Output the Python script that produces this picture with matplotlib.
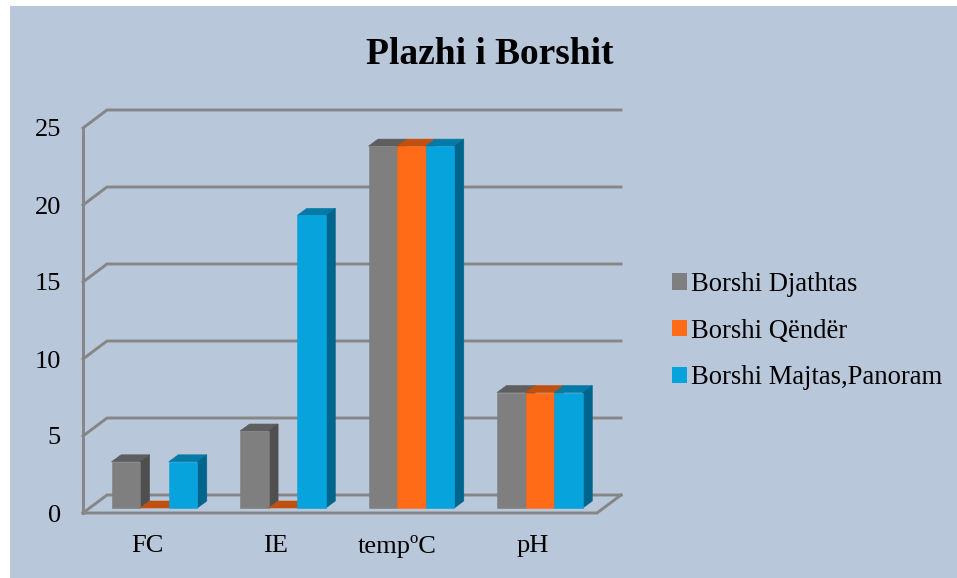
#=====================================================================
import matplotlib
matplotlib.use("Agg")
import matplotlib.pyplot as plt
from matplotlib.patches import Polygon, Patch, Rectangle
from matplotlib.transforms import ScaledTranslation
#=====================================================================
categories = ["FC", "IE", "tempºC", "pH"]
series_names = ["Borshi Djathtas", "Borshi Qëndër", "Borshi Majtas,Panoram"]
djathtas = [3, 5, 23.5, 7.5]
qender = [0, 0, 23.5, 7.5]
majtas = [3, 19, 23.5, 7.5]
y_ticks = [0, 5, 10, 15, 20, 25]
#=====================================================================
W, H = 957, 578
plt.rcParams["font.family"] = ["Liberation Serif", "DejaVu Serif"]

# front, side, top shade of each series
shades = [("#7f7f7f", "#4f4f50", "#5e5e5f"),
          ("#ff6b17", "#bf5010", "#bf5010"),
          ("#06a3dc", "#00658c", "#067aa6")]
grid_color = "#868686"

fig = plt.figure(figsize=(W / 100, H / 100), dpi=100, facecolor="white")
fig.patches.append(Rectangle((10 / W, 0), 947 / W, 572 / H, transform=fig.transFigure,
                             facecolor="#b8c7da", edgecolor="none", zorder=-5))

# front plane of the chart: x 83..597 px, y 513..128 px
ax = fig.add_axes([83 / W, 1 - 513 / H, 514 / W, 385 / H])
ax.set_xlim(0, len(categories))
ax.set_ylim(0, 25)
ax.patch.set_alpha(0)
for s in ax.spines.values():
    s.set_visible(False)

px_x = len(categories) / 514  # one pixel in data units
px_y = 25 / 385

wall_dx, wall_dy = 24 * px_x, 18 * px_y
base_dy = 5 * px_y
bar_dx, bar_dy = 9.5 * px_x, 7 * px_y
bar_w = 28.6 * px_x
first_bar = 28.5 * px_x

def Poly(points, color, z):
    ax.add_patch(Polygon(points, closed=True, facecolor=color, edgecolor=color,
                         linewidth=0.4, clip_on=False, zorder=z))

def Line(xs, ys):
    ax.plot(xs, ys, color=grid_color, lw=2.1, clip_on=False, zorder=1, solid_joinstyle="miter")

# walls and floor
n = len(categories)
for t in y_ticks:
    Line([0, wall_dx, n + wall_dx], [t, t + wall_dy, t + wall_dy])
Line([0, 0], [0, 25])
Line([0, n, n + wall_dx], [0, 0, wall_dy])

# bars, left to right so that each one covers the side of the one before
z = 2
for i in range(n):
    for j, values in enumerate([djathtas, qender, majtas]):
        v = values[i]
        front, side, top = shades[j]
        x0 = i + first_bar + j * bar_w
        x1 = x0 + bar_w
        y0 = base_dy
        y1 = y0 + v
        Poly([(x0, y1), (x1, y1), (x1 + bar_dx, y1 + bar_dy), (x0 + bar_dx, y1 + bar_dy)], top, z)
        Poly([(x1, y0), (x1 + bar_dx, y0 + bar_dy), (x1 + bar_dx, y1 + bar_dy), (x1, y1)], side, z)
        if v > 0:
            ax.add_patch(Rectangle((x0, y0), bar_w, v, facecolor=front, edgecolor=front,
                                   linewidth=0.4, clip_on=False, zorder=z + 0.5))
        z += 1

ax.set_xticks([i + 0.5 for i in range(n)])
ax.set_xticklabels(categories, fontsize=19)
ax.set_yticks(y_ticks)
ax.set_yticklabels([str(t) for t in y_ticks], fontsize=19)
ax.tick_params(axis="x", length=0, pad=15.5)
ax.tick_params(axis="y", length=0, pad=16)

# the tempºC label sits a little left of its group in the reference
temp_label = ax.get_xticklabels()[2]
temp_label.set_transform(temp_label.get_transform() + ScaledTranslation(-0.07, 0, fig.dpi_scale_trans))

handles = [Patch(facecolor=s[0], edgecolor="none") for s in shades]
fig.legend(handles, series_names, loc="center left", bbox_to_anchor=(672 / W, 1 - 331 / H),
           frameon=False, fontsize=19.2, handlelength=0.58, handleheight=0.58,
           handletextpad=0.15, labelspacing=0.82, borderpad=0, borderaxespad=0)

fig.text(490 / W, 1 - 54 / H, "Plazhi i Borshit", ha="center", va="center",
         fontsize=27, fontweight="bold", color="black")

fig.savefig("out.png", dpi=100)
#=====================================================================
